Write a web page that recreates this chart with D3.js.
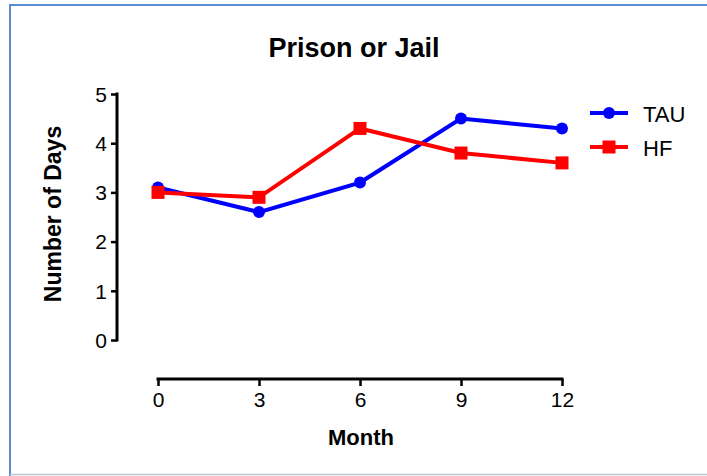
<!DOCTYPE html>
<html><head><meta charset="utf-8">
<script src="https://cdn.jsdelivr.net/npm/d3@7"></script>
<style>body{margin:0;background:#fff}svg{display:block}text{font-family:"Liberation Sans",Arial,sans-serif}</style>
</head><body><div id="chart"></div>
<script>
const months = [0, 3, 6, 9, 12];
const tauValues = [3.1, 2.6, 3.2, 4.5, 4.3];
const hfValues = [3.0, 2.9, 4.3, 3.8, 3.6];
const xTicks = [0, 3, 6, 9, 12];
const yTicks = [0, 1, 2, 3, 4, 5];
const seriesNames = ["TAU", "HF"];

const W = 707, H = 476;
const svg = d3.select("#chart").append("svg").attr("width", W).attr("height", H);

// frame
svg.append("line").attr("x1", 9).attr("x2", W).attr("y1", 5).attr("y2", 5).attr("stroke", "#5b8bd2").attr("stroke-width", 2);
svg.append("line").attr("x1", 10).attr("x2", 10).attr("y1", 4).attr("y2", 476).attr("stroke", "#5b8bd2").attr("stroke-width", 2);
svg.append("line").attr("x1", 10).attr("x2", W).attr("y1", 474.5).attr("y2", 474.5).attr("stroke", "#b9c8dc").attr("stroke-width", 1.5);

const x = d3.scaleLinear().domain([0, 12]).range([158, 562]);
const y = d3.scaleLinear().domain([0, 5]).range([340, 94]);

const yAxis = svg.append("g").attr("transform", "translate(117,0)")
  .call(d3.axisLeft(y).tickValues(yTicks).tickFormat(d3.format("d")).tickSize(6).tickSizeOuter(0).tickPadding(4));
const xAxis = svg.append("g").attr("transform", "translate(0,379)")
  .call(d3.axisBottom(x).tickValues(xTicks).tickFormat(d3.format("d")).tickSize(7).tickSizeOuter(0).tickPadding(6));
[yAxis, xAxis].forEach(g => {
  g.attr("font-size", null).attr("font-family", null);
  g.select(".domain").attr("stroke", "#000").attr("stroke-width", 3);
  g.selectAll(".tick line").attr("stroke", "#000").attr("stroke-width", 2.5);
  g.selectAll(".tick text").attr("fill", "#000").style("font-size", "21px");
});
yAxis.selectAll(".tick text").attr("dy", "0.35em");
yAxis.select(".domain").attr("d", "M0,92.5V341.5");
xAxis.select(".domain").attr("d", "M156.5,0H563.5");

// titles
svg.append("text").attr("x", 354).attr("y", 57).attr("text-anchor", "middle")
  .style("font-size", "27px").style("font-weight", "bold").text("Prison or Jail");
svg.append("text").attr("x", 361).attr("y", 445).attr("text-anchor", "middle")
  .style("font-size", "22px").style("font-weight", "bold").text("Month");
svg.append("text").attr("transform", "translate(61,214) rotate(-90)").attr("text-anchor", "middle")
  .style("font-size", "23px").style("font-weight", "bold").text("Number of Days");

const line = d3.line().x(d => x(d[0])).y(d => y(d[1]));
const tau = months.map((m, i) => [m, tauValues[i]]);
const hf = months.map((m, i) => [m, hfValues[i]]);

svg.append("path").datum(tau).attr("d", line).attr("fill", "none").attr("stroke", "#0000ff").attr("stroke-width", 4);
svg.append("path").datum(hf).attr("d", line).attr("fill", "none").attr("stroke", "#ff0000").attr("stroke-width", 4);

svg.selectAll(".tauPt").data(tau).enter().append("circle")
  .attr("cx", d => x(d[0])).attr("cy", d => y(d[1])).attr("r", 6).attr("fill", "#0000ff");
svg.selectAll(".hfPt").data(hf).enter().append("rect")
  .attr("x", d => x(d[0]) - 6.5).attr("y", d => y(d[1]) - 6.5).attr("width", 13).attr("height", 13).attr("fill", "#ff0000");

// legend
const lg = [{name: seriesNames[0], color: "#0000ff", shape: "circle", y: 113}, {name: seriesNames[1], color: "#ff0000", shape: "rect", y: 147}];
lg.forEach(d => {
  svg.append("line").attr("x1", 590).attr("x2", 628).attr("y1", d.y).attr("y2", d.y).attr("stroke", d.color).attr("stroke-width", 4);
  if (d.shape === "circle") svg.append("circle").attr("cx", 609).attr("cy", d.y).attr("r", 6).attr("fill", d.color);
  else svg.append("rect").attr("x", 602.5).attr("y", d.y - 6.5).attr("width", 13).attr("height", 13).attr("fill", d.color);
  svg.append("text").attr("x", 643).attr("y", d.y + 8.5).style("font-size", "22px").text(d.name);
});
</script></body></html>
